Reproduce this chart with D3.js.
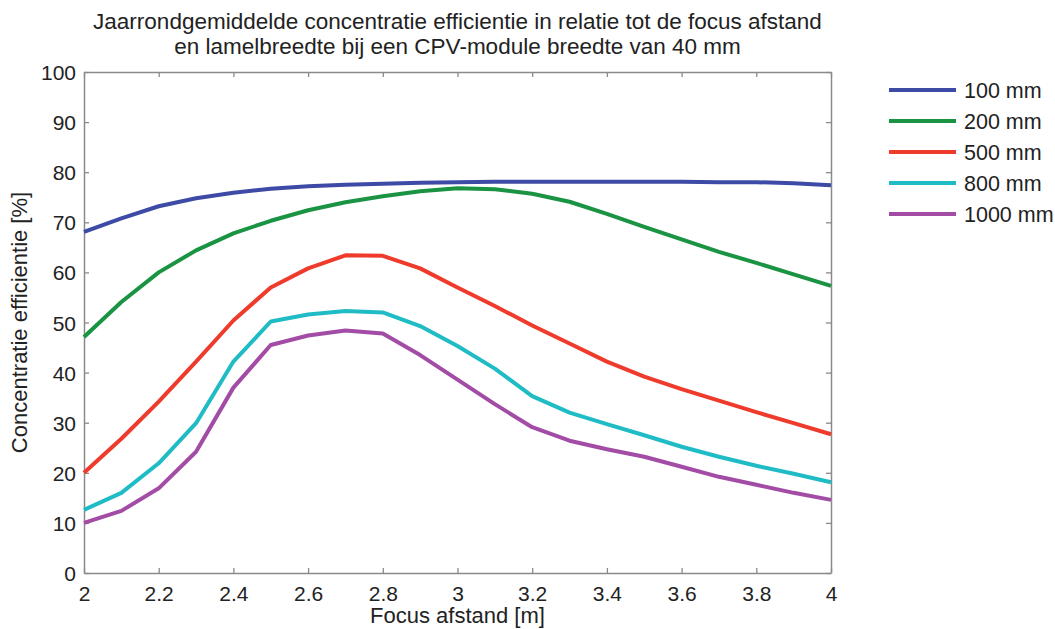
<!DOCTYPE html>
<html>
<head>
<meta charset="utf-8">
<script src="https://cdn.jsdelivr.net/npm/d3@7"></script>
<style>
  html, body { margin: 0; padding: 0; background: #fff; }
  svg { display: block; }
  text { font-family: "Liberation Sans", Arial, Helvetica, sans-serif; fill: #222; }
</style>
</head>
<body>
<svg id="chart" width="1055" height="629"></svg>
<script>
// Focus distance [m]
const focus = [2.0, 2.1, 2.2, 2.3, 2.4, 2.5, 2.6, 2.7, 2.8, 2.9, 3.0,
               3.1, 3.2, 3.3, 3.4, 3.5, 3.6, 3.7, 3.8, 3.9, 4.0];

// Year-round mean concentration efficiency [%] per slat width
const eff100  = [68.1, 70.8, 73.2, 74.8, 75.9, 76.7, 77.2, 77.5, 77.7, 77.9, 78.0,
                 78.1, 78.1, 78.1, 78.1, 78.1, 78.1, 78.0, 78.0, 77.8, 77.4];
const eff200  = [47.1, 54.1, 60.0, 64.4, 67.8, 70.3, 72.4, 74.0, 75.2, 76.2, 76.8,
                 76.6, 75.7, 74.1, 71.7, 69.1, 66.6, 64.1, 61.9, 59.6, 57.3];
const eff500  = [20.0, 26.8, 34.2, 42.2, 50.4, 57.0, 60.8, 63.4, 63.3, 60.8, 57.0,
                 53.3, 49.4, 45.8, 42.2, 39.2, 36.7, 34.4, 32.1, 29.9, 27.7];
const eff800  = [12.6, 16.0, 21.9, 29.9, 42.2, 50.2, 51.6, 52.3, 52.0, 49.3, 45.3,
                 40.8, 35.3, 32.0, 29.7, 27.5, 25.2, 23.2, 21.4, 19.8, 18.1];
const eff1000 = [10.0, 12.4, 16.9, 24.2, 37.0, 45.5, 47.4, 48.4, 47.8, 43.5, 38.6,
                 33.7, 29.1, 26.4, 24.7, 23.2, 21.2, 19.2, 17.6, 16.0, 14.6];

const seriesNames  = ["100 mm", "200 mm", "500 mm", "800 mm", "1000 mm"];
const seriesValues = [eff100, eff200, eff500, eff800, eff1000];
const seriesColors = ["#3d4ba6", "#1a9343", "#ef3b2c", "#20bcc6", "#a24ca6"];

const xTicks = [2, 2.2, 2.4, 2.6, 2.8, 3, 3.2, 3.4, 3.6, 3.8, 4];
const yTicks = [0, 10, 20, 30, 40, 50, 60, 70, 80, 90, 100];

const titleLines = [
  "Jaarrondgemiddelde concentratie efficientie in relatie tot de focus afstand",
  "en lamelbreedte bij een CPV-module breedte van 40 mm"
];
const xLabel = "Focus afstand [m]";
const yLabel = "Concentratie efficientie [%]";

// Layout
const margin = { left: 84, top: 72, right: 1055 - 831, bottom: 629 - 573 };
const W = 1055, H = 629;
const pw = W - margin.left - margin.right;
const ph = H - margin.top - margin.bottom;
const axisColor = "#8a8a8a";
const tickLen = 5;

const svg = d3.select("#chart");
const g = svg.append("g").attr("transform", `translate(${margin.left},${margin.top})`);

const x = d3.scaleLinear().domain([2, 4]).range([0, pw]);
const y = d3.scaleLinear().domain([0, 100]).range([ph, 0]);

function styleAxis(sel, showLabels) {
  sel.select(".domain").attr("stroke", axisColor).attr("stroke-width", 1.5);
  sel.selectAll(".tick line").attr("stroke", axisColor).attr("stroke-width", 1.3);
  sel.selectAll(".tick text")
    .attr("fill", "#222")
    .style("font-size", "21px")
    .style("display", showLabels ? null : "none");
  sel.attr("font-family", null).attr("font-size", null);
}

// Bottom axis with inward ticks
const xAxis = g.append("g").attr("transform", `translate(0,${ph})`)
  .call(d3.axisBottom(x).tickValues(xTicks).tickSizeInner(-tickLen).tickSizeOuter(0)
        .tickPadding(11).tickFormat(d3.format("~g")));
styleAxis(xAxis, true);
xAxis.selectAll(".tick text").attr("dy", "0.71em").attr("y", 13);

// Top axis (ticks only)
const xAxisTop = g.append("g")
  .call(d3.axisTop(x).tickValues(xTicks).tickSizeInner(-tickLen).tickSizeOuter(0));
styleAxis(xAxisTop, false);

// Left axis with inward ticks
const yAxis = g.append("g")
  .call(d3.axisLeft(y).tickValues(yTicks).tickSizeInner(-tickLen).tickSizeOuter(0)
        .tickPadding(8));
styleAxis(yAxis, true);
yAxis.selectAll(".tick text").attr("x", -8).attr("dy", "0.36em");

// Right axis (ticks only)
const yAxisRight = g.append("g").attr("transform", `translate(${pw},0)`)
  .call(d3.axisRight(y).tickValues(yTicks).tickSizeInner(-tickLen).tickSizeOuter(0));
styleAxis(yAxisRight, false);

// Series lines
const line = d3.line()
  .x((d, i) => x(focus[i]))
  .y(d => y(d))
  .curve(d3.curveLinear);

g.append("g").selectAll("path.series")
  .data(seriesValues)
  .join("path")
  .attr("class", "series")
  .attr("fill", "none")
  .attr("stroke", (d, i) => seriesColors[i])
  .attr("stroke-width", 4)
  .attr("stroke-linejoin", "round")
  .attr("stroke-linecap", "butt")
  .attr("d", line);

// Title
svg.append("g").selectAll("text")
  .data(titleLines)
  .join("text")
  .attr("x", margin.left + pw / 2)
  .attr("y", (d, i) => 29 + i * 25)
  .attr("text-anchor", "middle")
  .style("font-size", "22.5px")
  .text(d => d);

// Axis titles
svg.append("text")
  .attr("x", margin.left + pw / 2)
  .attr("y", 623)
  .attr("text-anchor", "middle")
  .style("font-size", "22px")
  .text(xLabel);

svg.append("text")
  .attr("transform", `translate(27,${margin.top + ph / 2}) rotate(-90)`)
  .attr("text-anchor", "middle")
  .style("font-size", "22px")
  .text(yLabel);

// Legend
const legend = svg.append("g").attr("transform", "translate(889,90)");
const items = legend.selectAll("g")
  .data(seriesNames)
  .join("g")
  .attr("transform", (d, i) => `translate(0,${i * 31})`);
items.append("line")
  .attr("x1", 0).attr("x2", 67)
  .attr("y1", 0).attr("y2", 0)
  .attr("stroke", (d, i) => seriesColors[i])
  .attr("stroke-width", 4);
items.append("text")
  .attr("x", 75)
  .attr("y", 0)
  .attr("dy", "0.36em")
  .style("font-size", "21.5px")
  .text(d => d);
</script>
</body>
</html>
